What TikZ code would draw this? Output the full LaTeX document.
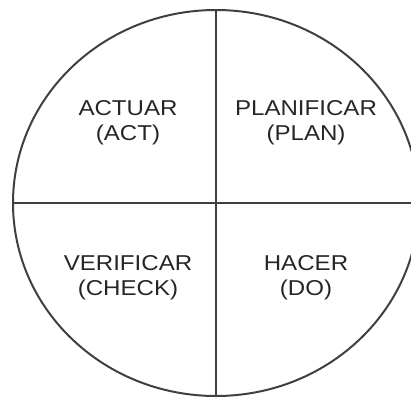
\documentclass[tikz,border=0pt]{standalone}
\usepackage{fontspec}
\setmainfont{Liberation Sans}
\usetikzlibrary{shapes.geometric}

\tikzset{
  quadlabel/.style={align=center, text=black!85, xscale=1.12, transform shape,
    font=\fontsize{21.5}{25}\selectfont},
  cycleline/.style={line width=2pt, draw=black!75}
}

\begin{document}
\begin{tikzpicture}[x=1pt, y=1pt]
  % Frame of the picture, the circle is cut at the right edge
  \useasboundingbox (0,0) rectangle (411,397);
  \clip (0,0) rectangle (411,397);

  % Outer circle
  \node[ellipse, cycleline, minimum width=406, minimum height=386,
    inner sep=0pt, outer sep=0pt] (cycle) at (216,194) {};

  % Cross dividing the four quarters
  \draw[cycleline] (cycle.north) -- (cycle.south);
  \draw[cycleline] (cycle.west) -- (cycle.east);

  % Upper quarters
  \node[quadlabel] (act) at (128,274) {ACTUAR\\(ACT)};
  \node[quadlabel] (plan) at (306,274) {PLANIFICAR\\(PLAN)};

  % Lower quarters
  \node[quadlabel] (check) at (128,119) {VERIFICAR\\(CHECK)};
  \node[quadlabel] (do) at (306,119) {HACER\\(DO)};
\end{tikzpicture}
\end{document}
